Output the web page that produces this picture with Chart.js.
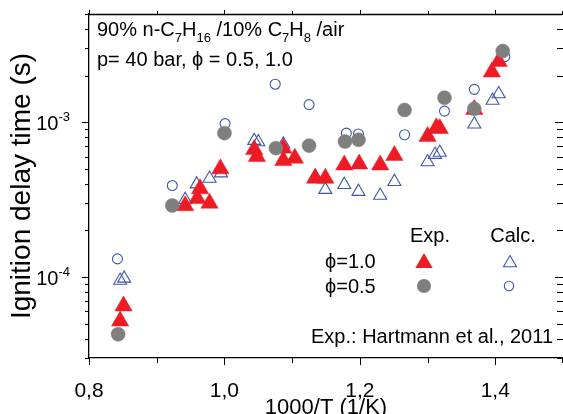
<!DOCTYPE html>
<html><head><meta charset="utf-8">
<script src="https://cdn.jsdelivr.net/npm/chart.js@4/dist/chart.umd.min.js"></script>
<style>html,body{margin:0;padding:0;background:#fff;overflow:hidden}</style>
</head><body>
<canvas id="c" width="563" height="414"></canvas>
<script>
// ---- data (1000/T in 1/K, ignition delay time in s) ----
const expPhi10X = [0.851, 0.846, 0.942, 0.960, 0.964, 0.978, 0.994, 1.044, 1.048, 1.087, 1.087, 1.104, 1.134, 1.149, 1.177, 1.199, 1.230, 1.251, 1.300, 1.313, 1.318, 1.369, 1.395, 1.405];
const expPhi10Y = [6.5e-5, 5.2e-5, 2.89e-4, 3.21e-4, 3.72e-4, 3.0e-4, 5.0e-4, 6.66e-4, 6.0e-4, 6.8e-4, 5.65e-4, 5.86e-4, 4.35e-4, 4.35e-4, 5.3e-4, 5.37e-4, 5.3e-4, 6.1e-4, 8.1e-4, 9.2e-4, 9.1e-4, 1.21e-3, 2.11e-3, 2.47e-3];
const expPhi05X = [0.843, 0.923, 1.000, 1.076, 1.125, 1.178, 1.198, 1.266, 1.325, 1.369, 1.411];
const expPhi05Y = [4.27e-5, 2.9e-4, 8.5e-4, 6.8e-4, 7.06e-4, 7.5e-4, 7.7e-4, 1.20e-3, 1.44e-3, 1.22e-3, 2.88e-3];
const calcPhi10X = [0.846, 0.852, 0.942, 0.959, 0.978, 0.995, 1.044, 1.050, 1.087, 1.134, 1.149, 1.177, 1.198, 1.230, 1.251, 1.300, 1.311, 1.318, 1.369, 1.396, 1.405];
const calcPhi10Y = [9.5e-5, 9.8e-5, 3.16e-4, 3.98e-4, 4.33e-4, 4.69e-4, 7.6e-4, 7.45e-4, 7.2e-4, 4.45e-4, 3.67e-4, 3.95e-4, 3.56e-4, 3.36e-4, 4.13e-4, 5.53e-4, 6.18e-4, 6.37e-4, 9.7e-4, 1.38e-3, 1.52e-3];
const calcPhi05X = [0.842, 0.923, 1.001, 1.075, 1.125, 1.180, 1.198, 1.266, 1.325, 1.369, 1.414];
const calcPhi05Y = [1.31e-4, 3.90e-4, 9.8e-4, 1.76e-3, 1.30e-3, 8.5e-4, 8.4e-4, 8.3e-4, 1.18e-3, 1.63e-3, 2.65e-3];

const xMajorTicks = [0.8, 1.0, 1.2, 1.4];
const xMinorTicks = [0.9, 1.1, 1.3, 1.5];
const yMajorTicks = [1e-4, 1e-3];
const yMinorTicks = [3e-5, 4e-5, 5e-5, 6e-5, 7e-5, 8e-5, 9e-5, 2e-4, 3e-4, 4e-4, 5e-4, 6e-4, 7e-4, 8e-4, 9e-4, 2e-3, 3e-3, 4e-3, 5e-3];
const xLimits = [0.8, 1.5];
const yLimits = [3e-5, 5e-3];

const titleLine1 = [["90% n-C", 0], ["7", 1], ["H", 0], ["16", 1], [" /10% C", 0], ["7", 1], ["H", 0], ["8", 1], [" /air", 0]];
const titleLine2 = "p= 40 bar, \u03D5 = 0.5, 1.0";
const legendCols = ["Exp.", "Calc."];
const legendRows = ["\u03D5=1.0", "\u03D5=0.5"];
const sourceNote = "Exp.: Hartmann et al., 2011";

const FONT = '"Liberation Sans", Arial, sans-serif';
const RED = '#ED1C24', GRAY = '#7F7F7F', BLUE = '#3F57AA';

const pts = (xs, ys) => xs.map((x, i) => ({x, y: ys[i]}));

function tri(ctx, x, y, r, fill, stroke, lw) {
  ctx.beginPath();
  for (let k = 0; k < 3; k++) {
    const a = k * 2 * Math.PI / 3;
    const px = x + Math.sin(a) * r, py = y - Math.cos(a) * r;
    k ? ctx.lineTo(px, py) : ctx.moveTo(px, py);
  }
  ctx.closePath();
  if (fill) { ctx.fillStyle = fill; ctx.fill(); }
  if (stroke) { ctx.strokeStyle = stroke; ctx.lineWidth = lw; ctx.stroke(); }
}
function circ(ctx, x, y, r, fill, stroke, lw) {
  ctx.beginPath(); ctx.arc(x, y, r, 0, Math.PI * 2);
  if (fill) { ctx.fillStyle = fill; ctx.fill(); }
  if (stroke) { ctx.strokeStyle = stroke; ctx.lineWidth = lw; ctx.stroke(); }
}

const decor = {
  id: 'decor',
  afterDraw(chart) {
    const {ctx, chartArea: a, scales: {x, y}} = chart;
    ctx.save();
    ctx.strokeStyle = '#000';
    ctx.lineWidth = 1.3;
    // top frame line
    ctx.beginPath(); ctx.moveTo(a.left, a.top + 0.5); ctx.lineTo(a.right - 1, a.top + 0.5); ctx.stroke();
    ctx.lineWidth = 1;
    const tick = (x1, y1, x2, y2) => { ctx.beginPath(); ctx.moveTo(x1, y1); ctx.lineTo(x2, y2); ctx.stroke(); };
    // x ticks (bottom out, top out)
    xMajorTicks.forEach(v => { const p = Math.round(x.getPixelForValue(v)) + 0.5; tick(p, a.bottom, p, a.bottom + 7); tick(p, a.top, p, a.top - 4); });
    xMinorTicks.forEach(v => { const p = Math.min(Math.round(x.getPixelForValue(v)) + 0.5, a.right - 0.5); tick(p, a.bottom, p, a.bottom + 5); tick(p, a.top, p, a.top - 3); });
    // y ticks (left out, right in)
    yMajorTicks.forEach(v => { const p = Math.round(y.getPixelForValue(v)) + 0.5; tick(a.left, p, a.left - 7, p); tick(a.right, p, a.right - 8, p); });
    yMinorTicks.forEach(v => { const p = Math.round(y.getPixelForValue(v)) + 0.5; tick(a.left, p, a.left - 4, p); tick(a.right, p, a.right - 6, p); });

    // y tick labels 10^n with superscript exponent
    ctx.fillStyle = '#000';
    ctx.textBaseline = 'alphabetic';
    ctx.textAlign = 'left';
    yMajorTicks.forEach(v => {
      const p = y.getPixelForValue(v);
      const e = String(Math.round(Math.log10(v)));
      ctx.font = '13px ' + FONT; const we = ctx.measureText(e).width;
      ctx.font = '20px ' + FONT; const wb = ctx.measureText('10').width;
      const right = a.left - 19;
      ctx.fillText('10', right - we - wb, p + 8);
      ctx.font = '13px ' + FONT;
      ctx.fillText(e, right - we, p - 1);
    });

    // legend markers
    tri(ctx, 424, 263, 10, RED, null, 0);
    circ(ctx, 424, 286, 7, GRAY, null, 0);
    tri(ctx, 510, 263, 7.5, null, BLUE, 1.1);
    circ(ctx, 509, 286, 4.7, null, BLUE, 1.1);

    // title text
    ctx.fillStyle = '#000';
    ctx.textAlign = 'left';
    let tx = 97;
    for (const [t, sub] of titleLine1) {
      ctx.font = (sub ? '13px ' : '20px ') + FONT;
      ctx.fillText(t, tx, sub ? 42 : 36);
      tx += ctx.measureText(t).width;
    }
    ctx.font = '20px ' + FONT;
    ctx.fillText(titleLine2, 97, 66);

    // legend text
    ctx.textAlign = 'center';
    ctx.fillText(legendCols[0], 430, 242);
    ctx.fillText(legendCols[1], 513, 242);
    ctx.textAlign = 'left';
    ctx.fillText(legendRows[0], 325, 268);
    ctx.fillText(legendRows[1], 325, 293);

    ctx.textAlign = 'right';
    ctx.fillText(sourceNote, 553, 343);
    ctx.restore();
  }
};

new Chart(document.getElementById('c'), {
  type: 'scatter',
  data: {
    datasets: [
      {label: 'Exp. \u03D5=0.5', data: pts(expPhi05X, expPhi05Y), pointStyle: 'circle', pointRadius: 7, backgroundColor: GRAY, borderColor: GRAY, borderWidth: 0.5, order: 1},
      {label: 'Exp. \u03D5=1.0', data: pts(expPhi10X, expPhi10Y), pointStyle: 'triangle', pointRadius: 10, backgroundColor: RED, borderColor: RED, borderWidth: 0.5, order: 2},
      {label: 'Calc. \u03D5=0.5', data: pts(calcPhi05X, calcPhi05Y), pointStyle: 'circle', pointRadius: 5, backgroundColor: 'rgba(0,0,0,0)', borderColor: BLUE, borderWidth: 1.1, order: 3},
      {label: 'Calc. \u03D5=1.0', data: pts(calcPhi10X, calcPhi10Y), pointStyle: 'triangle', pointRadius: 7.5, backgroundColor: 'rgba(0,0,0,0)', borderColor: BLUE, borderWidth: 1.1, order: 4}
    ]
  },
  options: {
    responsive: false,
    animation: false,
    events: [],
    clip: false,
    layout: {autoPadding: false, padding: {top: 14, right: 0, left: 0, bottom: 0}},
    plugins: {legend: {display: false}, tooltip: {enabled: false}},
    scales: {
      x: {
        type: 'linear', min: xLimits[0], max: xLimits[1],
        afterBuildTicks: s => { s.ticks = xMajorTicks.map(v => ({value: v})); },
        afterFit: s => { s.height = 56; s.paddingLeft = 0; s.paddingRight = 0; },
        grid: {display: false},
        border: {display: true, color: '#000', width: 1.3},
        ticks: {color: '#000', padding: 13, maxRotation: 0, autoSkip: false, font: {family: FONT, size: 21},
          callback: v => v.toFixed(1).replace('.', ',')},
        title: {display: true, text: '1000/T (1/K)', color: '#000', font: {family: FONT, size: 22, lineHeight: '12px'}, padding: 0}
      },
      y: {
        type: 'logarithmic', min: yLimits[0], max: yLimits[1],
        afterBuildTicks: s => { s.ticks = yMajorTicks.map(v => ({value: v})); },
        afterFit: s => { s.width = 89; s.paddingTop = 0; s.paddingBottom = 0; },
        grid: {display: false},
        border: {display: true, color: '#000', width: 1.3},
        ticks: {display: false},
        title: {display: true, text: 'Ignition delay time (s)', color: '#000', font: {family: FONT, size: 28, lineHeight: '44px'}, padding: 0}
      }
    }
  },
  plugins: [decor]
});
</script>
</body></html>
